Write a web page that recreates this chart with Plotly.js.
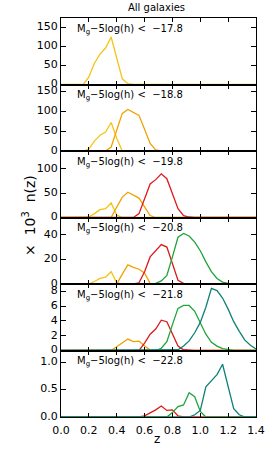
<!DOCTYPE html>
<html><head><meta charset="utf-8">
<script src="https://cdn.plot.ly/plotly-3.0.1.min.js"></script>
<style>html,body{margin:0;padding:0;background:#fff}#chart{width:274px;height:456px}</style>
</head><body><div id="chart"></div>
<script>
// redshift grid (bin centres)
const z = [0.00,0.04,0.08,0.12,0.16,0.20,0.24,0.28,0.32,0.36,0.40,0.44,0.48,0.52,0.56,0.60,0.64,0.68,
           0.72,0.76,0.80,0.84,0.88,0.92,0.96,1.00,1.04,1.08,1.12,1.16,1.20,1.24,1.28,1.32,1.36,1.40];

// magnitude cuts per panel
const magCuts = ['−17.8','−18.8','−19.8','−20.8','−21.8','−22.8'];

// panel 1
const p1Yellow = [0,0,0,0,0,20,56,80,96,125,70,15,2,0,0,0,0,0,0,0,0,0,0,0,0,0,0,0,0,0,0,0,0,0,0,0];
// panel 2
const p2Yellow = [0,0,0,0,0,5,25,40,48,72,32,0,0,0,0,0,0,0,0,0,0,0,0,0,0,0,0,0,0,0,0,0,0,0,0,0];
const p2Orange = [0,0,0,0,0,0,0,0,0,10,52,95,105,98,90,55,19,3,0,0,0,0,0,0,0,0,0,0,0,0,0,0,0,0,0,0];
// panel 3
const p3Yellow = [0,0,0,0,0,1,8,16,18,30,5,0,0,0,0,0,0,0,0,0,0,0,0,0,0,0,0,0,0,0,0,0,0,0,0,0];
const p3Orange = [0,0,0,0,0,0,0,0,0,0,21,42,52,46,40,22,4,0,0,0,0,0,0,0,0,0,0,0,0,0,0,0,0,0,0,0];
const p3Red    = [0,0,0,0,0,0,0,0,0,0,0,0,0,0,8,38,69,78,90,80,48,18,4,1,0,0,0,0,0,0,0,0,0,0,0,0];
// panel 4
const p4Yellow = [0,0,0,0,0,0,2,4.5,5.5,10,1,0,0,0,0,0,0,0,0,0,0,0,0,0,0,0,0,0,0,0,0,0,0,0,0,0];
const p4Orange = [0,0,0,0,0,0,0,0,0,0,0,8,15.5,13.5,12,9,0.5,0,0,0,0,0,0,0,0,0,0,0,0,0,0,0,0,0,0,0];
const p4Red    = [0,0,0,0,0,0,0,0,0,0,0,0,0,0,1,10,22,27,32,30,17,3,0.5,0,0,0,0,0,0,0,0,0,0,0,0,0];
const p4Green  = [0,0,0,0,0,0,0,0,0,0,0,0,0,0,0,0,0,0.5,2.5,7,22,38,41,39,34,27,18,10,4.5,1.5,0.5,0,0,0,0,0];
// panel 5
const p5Orange = [0,0,0,0,0,0,0,0,0,0,0.5,1.0,1.55,1.2,1.27,0.6,0.05,0,0,0,0,0,0,0,0,0,0,0,0,0,0,0,0,0,0,0];
const p5Red    = [0,0,0,0,0,0,0,0,0,0,0,0,0,0,0,1.0,2.2,2.9,4.1,3.9,2.2,0.6,0.1,0,0,0,0,0,0,0,0,0,0,0,0,0];
const p5Green  = [0,0,0,0,0,0,0,0,0,0,0,0,0,0,0,0,0,0,0.3,1.2,3.5,5.7,6.1,6.1,5.3,3.8,2.2,1.1,0.6,0.25,0.1,0,0,0,0,0];
const p5Teal   = [0,0,0,0,0,0,0,0,0,0,0,0,0,0,0,0,0,0,0,0,0,0.1,0.6,1.3,2.4,3.8,5.85,8.4,8.1,7.1,5.6,3.9,2.6,1.4,0.7,0.2];
// panel 6
const p6Red    = [0,0,0,0,0,0,0,0,0,0,0,0,0,0,0,0.02,0.07,0.13,0.2,0.12,0.13,0.02,0,0,0,0,0,0,0,0,0,0,0,0,0,0];
const p6Green  = [0,0,0,0,0,0,0,0,0,0,0,0,0,0,0,0,0,0,0,0,0.08,0.19,0.22,0.44,0.37,0.1,0,0,0,0,0,0,0,0,0,0];
const p6Teal   = [0,0,0,0,0,0,0,0,0,0,0,0,0,0,0,0,0,0,0,0,0,0,0,0,0.04,0.12,0.55,0.66,0.77,0.96,0.55,0.15,0.04,0,0,0];

// y tick values per panel
const yTicks = [[0,50,100,150],[0,50,100,150],[0,50,100],[0,20,40],[0,2,4,6,8],[0.0,0.5,1.0]];
const xTicks = [0.0,0.2,0.4,0.6,0.8,1.0,1.2,1.4];

const COL = {yellow:'#F4C414', orange:'#F0A202', red:'#DC1A1A', green:'#1FA43A', teal:'#0E8275'};

const panels = [
  {lines:[['yellow',p1Yellow]], range:[0,175]},
  {lines:[['yellow',p2Yellow],['orange',p2Orange]], range:[0,168]},
  {lines:[['yellow',p3Yellow],['orange',p3Orange],['red',p3Red]], range:[0,137]},
  {lines:[['yellow',p4Yellow],['orange',p4Orange],['red',p4Red],['green',p4Green]], range:[0,54]},
  {lines:[['orange',p5Orange],['red',p5Red],['green',p5Green],['teal',p5Teal]], range:[0,9.0]},
  {lines:[['red',p6Red],['green',p6Green],['teal',p6Teal]], range:[0,1.21]}
];

const FONT = 'DejaVu Sans';
const traces = [];
const layout = {
  width:274, height:456,
  margin:{l:61, r:18, t:18, b:39, pad:0},
  paper_bgcolor:'#fff', plot_bgcolor:'#fff',
  showlegend:false,
  font:{family:FONT, size:11, color:'#000'},
  annotations:[]
};
const N = panels.length;
panels.forEach((p, i) => {
  const k = i + 1;
  const sx = k === 1 ? '' : String(k);
  p.lines.forEach(([c, vals]) => {
    traces.push({x:z, y:vals, type:'scatter', mode:'lines', xaxis:'x'+sx, yaxis:'y'+sx,
      line:{color:COL[c], width:1.3}, hoverinfo:'skip'});
  });
  const top = 1 - i / N, bot = 1 - (i + 1) / N;
  layout['yaxis'+sx] = {
    domain:[bot, top], range:p.range, anchor:'x'+sx,
    tickvals:yTicks[i], ticktext:yTicks[i].map(v => k === 6 ? v.toFixed(1) : String(v)),
    ticks:'inside', ticklen:5, tickwidth:1, tickcolor:'#000',
    ticklabelshift:-1,
    showline:true, linecolor:'#000', linewidth:1, mirror:'ticks',
    showgrid:false, zeroline:false,
    tickfont:{family:FONT, size:11, color:'#000'}
  };
  layout['xaxis'+sx] = {
    domain:[0,1], range:[0,1.4], anchor:'y'+sx,
    tickvals:xTicks, ticktext:xTicks.map(v => v.toFixed(1)),
    showticklabels: k === N,
    ticks:'inside', ticklen:4, tickwidth:1, tickcolor:'#000',
    ticklabelstandoff:3,
    showline:true, linecolor:'#000', linewidth:1, mirror:'ticks',
    showgrid:false, zeroline:false,
    tickfont:{family:FONT, size:11, color:'#000'}
  };
  layout.annotations.push({
    xref:'x'+sx+' domain', yref:'y'+sx+' domain', x:0.07, y:0.96,
    xanchor:'left', yanchor:'top', showarrow:false,
    text:'M<sub>g</sub>−5log(h) &lt;  ' + magCuts[i],
    font:{family:FONT, size:10, color:'#000'}
  });
});
layout.annotations.push({xref:'paper', yref:'paper', x:0.49, y:1.026, xanchor:'center', yanchor:'middle',
  showarrow:false, text:'All galaxies', font:{family:FONT, size:10, color:'#000'}});
layout.annotations.push({xref:'paper', yref:'paper', x:-0.165, y:0.506, xanchor:'center', yanchor:'middle',
  textangle:-90, showarrow:false, text:'×\u00a0 10<sup>3</sup>\u00a0 n(z)', font:{family:FONT, size:14, color:'#000'}});
layout.annotations.push({xref:'paper', yref:'paper', x:0.49, y:-0.054, xanchor:'center', yanchor:'middle',
  showarrow:false, text:'z', font:{family:FONT, size:12, color:'#000'}});

Plotly.newPlot('chart', traces, layout, {staticPlot:true, displayModeBar:false});
</script>
</body></html>
